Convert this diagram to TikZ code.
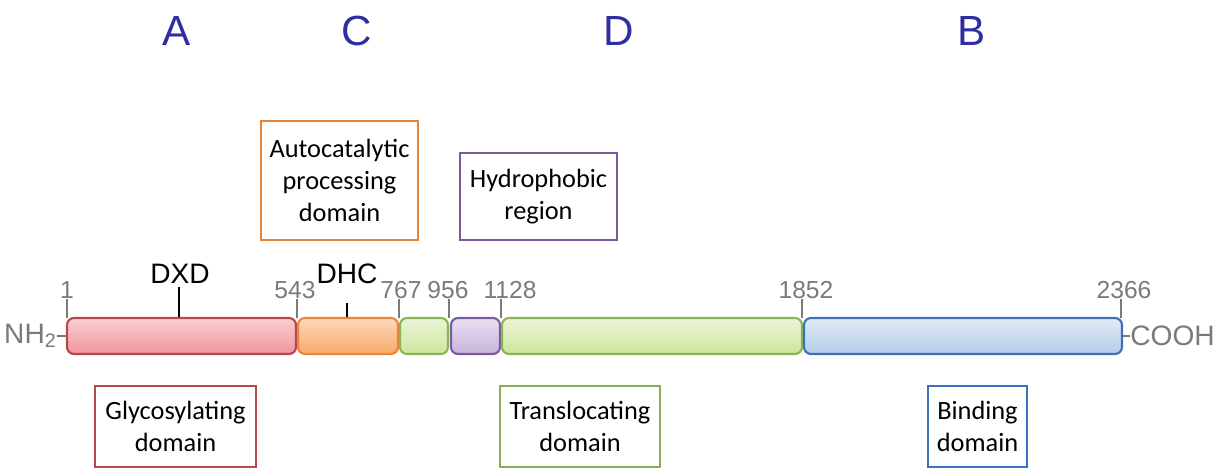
\documentclass[tikz,border=0pt]{standalone}
\usepackage{fontspec}
\setmainfont{Liberation Sans}
\newfontfamily\boxfont{Carlito}
\usetikzlibrary{positioning}

\definecolor{capblue}{HTML}{2E2EA2}
\definecolor{numgray}{HTML}{7A7A7A}
\definecolor{gtdred}{HTML}{B5474F}
\definecolor{gtdpink}{HTML}{F0949C}
\definecolor{cpdorange}{HTML}{E8863A}
\definecolor{cpdfill}{HTML}{F9AA68}
\definecolor{tdgreen}{HTML}{8DB454}
\definecolor{tdfill}{HTML}{CDE69C}
\definecolor{hrpurple}{HTML}{7A5A9E}
\definecolor{hrfill}{HTML}{C9B3DC}
\definecolor{rbdblue}{HTML}{3F6FB8}
\definecolor{rbdfill}{HTML}{B3CCEA}

\tikzset{
  segment/.style={draw, line width=1.2pt, rounded corners=4pt, inner sep=0pt,
    minimum height=0.72cm},
  domainbox/.style={draw, line width=1.1pt, inner sep=0pt, align=center,
    font=\boxfont\fontsize{15}{18}\selectfont},
  poslabel/.style={above, inner sep=0pt, text=numgray,
    font=\fontsize{14}{16}\selectfont},
  motif/.style={inner sep=0pt, font=\fontsize{16}{18}\selectfont},
  partletter/.style={text=capblue, font=\fontsize{24}{28}\selectfont},
  tick/.style={numgray, line width=0.8pt}
}

\begin{document}
\begin{tikzpicture}
  \useasboundingbox (0,0) rectangle (24.38,9.4);
  % parts
  \node[partletter] (partA) at (3.54,8.78) {A};
  \node[partletter] (partC) at (7.14,8.78) {C};
  \node[partletter] (partD) at (12.38,8.78) {D};
  \node[partletter] (partB) at (19.44,8.78) {B};
  % toxin bar
  \node[segment, gtdred, top color=gtdpink!45!white, bottom color=gtdpink,
    minimum width=4.58cm] (gtd) at (3.63,2.68) {};
  \node[segment, cpdorange, top color=cpdfill!45!white, bottom color=cpdfill,
    minimum width=2.0cm] (cpd) at (6.96,2.68) {};
  \node[segment, tdgreen, top color=tdfill!40!white, bottom color=tdfill,
    minimum width=0.96cm] (tda) at (8.48,2.68) {};
  \node[segment, hrpurple, top color=hrfill!40!white, bottom color=hrfill,
    minimum width=0.98cm] (hr) at (9.51,2.68) {};
  \node[segment, tdgreen, top color=tdfill!40!white, bottom color=tdfill,
    minimum width=6.0cm] (tdb) at (13.04,2.68) {};
  \node[segment, rbdblue, top color=rbdfill!40!white, bottom color=rbdfill,
    minimum width=6.36cm] (rbd) at (19.26,2.68) {};
  % termini
  \node[anchor=east, inner sep=0pt, text=numgray, font=\fontsize{16}{18}\selectfont]
    (nterm) at (1.14,2.68) {NH\textsubscript{2}};
  \node[anchor=west, inner sep=0pt, text=numgray, font=\fontsize{16}{18}\selectfont]
    (cterm) at (22.6,2.68) {COOH};
  \draw[tick] (nterm) -- (gtd.west);
  \draw[tick] (rbd.east) -- (cterm);
  % positions
  \coordinate (p1) at (1.34,3.04);
  \coordinate (p543) at (5.94,3.04);
  \coordinate (p767) at (7.98,3.04);
  \coordinate (p956) at (8.98,3.04);
  \coordinate (p1128) at (10.02,3.04);
  \coordinate (p1852) at (16.04,3.04);
  \coordinate (p2366) at (22.42,3.04);
  \node[poslabel] (n1) at (1.34,3.42) {1};
  \node[poslabel] (n543) at (5.9,3.42) {543};
  \node[poslabel] (n767) at (8.02,3.42) {767};
  \node[poslabel] (n956) at (8.96,3.42) {956};
  \node[poslabel] (n1128) at (10.2,3.42) {1128};
  \node[poslabel] (n1852) at (16.12,3.42) {1852};
  \node[poslabel] (n2366) at (22.48,3.42) {2366};
  \draw[tick] (p1) -- (p1 |- n1.south);
  \draw[tick] (p543) -- (p543 |- n543.south);
  \draw[tick] (p767) -- (p767 |- n767.south);
  \draw[tick] (p956) -- (p956 |- n956.south);
  \draw[tick] (p1128) -- (p1128 |- n1128.south);
  \draw[tick] (p1852) -- (p1852 |- n1852.south);
  \draw[tick] (p2366) -- (p2366 |- n2366.south);
  % motifs
  \node[motif, anchor=base] (dxd) at (3.6,3.74) {DXD};
  \node[motif, anchor=base] (dhc) at (6.94,3.74) {DHC};
  \coordinate (dxdend) at (3.58,3.66);
  \coordinate (dhcend) at (6.94,3.34);
  \draw[line width=1.2pt] (dxdend) -- (dxdend |- gtd.north);
  \draw[line width=1.2pt] (dhcend) -- (dhcend |- cpd.north);
  % domain boxes
  \node[domainbox, cpdorange!80!brown, minimum width=3.14cm, minimum height=2.38cm,
    text=black] (cpdbox) at (6.79,5.79) {Autocatalytic\\processing\\domain};
  \node[domainbox, hrpurple, minimum width=3.14cm, minimum height=1.74cm,
    text=black] (hrbox) at (10.77,5.47) {Hydrophobic\\region};
  \node[domainbox, gtdred, minimum width=3.22cm, minimum height=1.62cm,
    text=black] (gtdbox) at (3.51,0.87) {Glycosylating\\domain};
  \node[domainbox, tdgreen!85!gray, minimum width=3.2cm, minimum height=1.62cm,
    text=black] (tdbox) at (11.6,0.87) {Translocating\\domain};
  \node[domainbox, rbdblue, minimum width=1.98cm, minimum height=1.62cm,
    text=black] (rbdbox) at (19.55,0.87) {Binding\\domain};
\end{tikzpicture}
\end{document}
